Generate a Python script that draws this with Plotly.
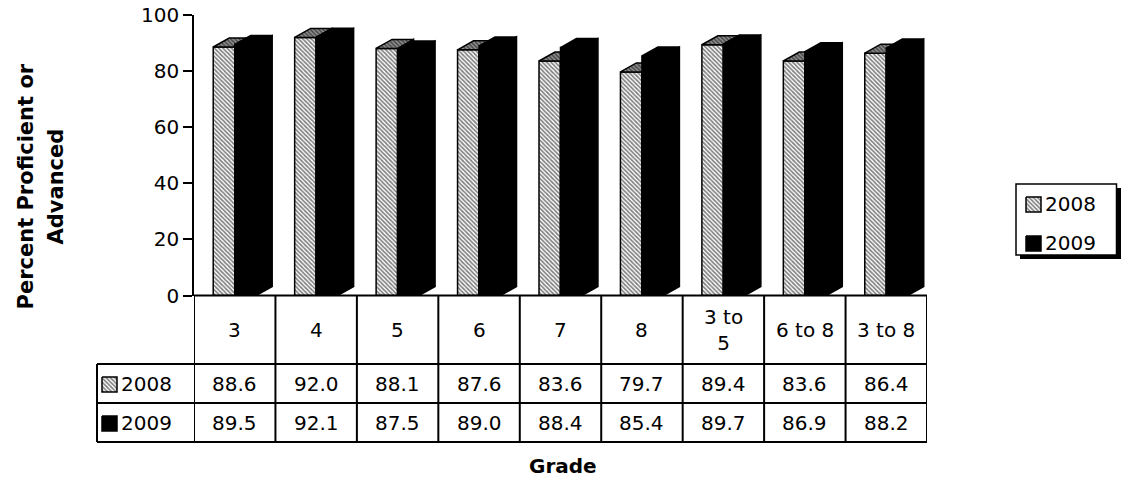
import plotly.graph_objects as go

# ---- data ---------------------------------------------------------------
grades = ["3", "4", "5", "6", "7", "8", "3 to 5", "6 to 8", "3 to 8"]
grade_labels = ["3", "4", "5", "6", "7", "8", "3 to<br>5", "6 to 8", "3 to 8"]
years = ["2008", "2009"]
pct_2008 = [88.6, 92.0, 88.1, 87.6, 83.6, 79.7, 89.4, 83.6, 86.4]
pct_2009 = [89.5, 92.1, 87.5, 89.0, 88.4, 85.4, 89.7, 86.9, 88.2]
y_ticks = [0, 20, 40, 60, 80, 100]

# ---- layout constants (pixels) -------------------------------------------
W, H = 1123, 480
PX_L, PX_R = 194, 927          # plot area left / right
PY_T, PY_B = 15, 295.5         # value 100 / value 0
TABLE_L = 97
ROW_HDR_B, ROW_1_B, ROW_2_B = 364, 403, 442
FONT = "DejaVu Sans"
FS = 20

BAR_W = 0.264      # width of one column, category units
DEPTH_X = 0.196    # oblique depth, category units
DEPTH_Y = 3.2      # oblique depth, value units

HATCH = dict(shape="\\", fgcolor="black", bgcolor="white", size=3, solidity=0.55)
HATCH_DARK = dict(shape="\\", fgcolor="black", bgcolor="#909090", size=3, solidity=0.5)


def fx(px):
    return px / W


def fy(py):
    return 1 - py / H


def top_faces(x0s, heights):
    xs, ys = [], []
    for x0, h in zip(x0s, heights):
        x1 = x0 + BAR_W
        xs += [x0, x1, x1 + DEPTH_X, x0 + DEPTH_X, x0, None]
        ys += [h, h, h + DEPTH_Y, h + DEPTH_Y, h, None]
    return xs, ys


def side_faces(x0s, heights):
    xs, ys = [], []
    for x0, h in zip(x0s, heights):
        x1 = x0 + BAR_W
        xs += [x1, x1 + DEPTH_X, x1 + DEPTH_X, x1, x1, None]
        ys += [0, DEPTH_Y, h + DEPTH_Y, h, 0, None]
    return xs, ys


idx = list(range(len(grades)))
x0_2008 = [i - BAR_W for i in idx]
x0_2009 = [i for i in idx]
EDGE = dict(color="black", width=1.5)

fig = go.Figure()

# 2008 columns (base axes)
sx, sy = side_faces(x0_2008, pct_2008)
fig.add_trace(go.Scatter(x=sx, y=sy, mode="lines", fill="toself",
                         fillcolor="#909090", fillpattern=HATCH_DARK, line=EDGE,
                         showlegend=False, hoverinfo="skip",
                         xaxis="x", yaxis="y"))
fig.add_trace(go.Bar(x=idx, y=pct_2008, width=BAR_W, offset=-BAR_W, name=years[0],
                     marker=dict(color="white", pattern=HATCH, line=EDGE),
                     showlegend=False, xaxis="x", yaxis="y"))
tx, ty = top_faces(x0_2008, pct_2008)
fig.add_trace(go.Scatter(x=tx, y=ty, mode="lines", fill="toself",
                         fillcolor="#909090", fillpattern=HATCH_DARK, line=EDGE,
                         showlegend=False, hoverinfo="skip",
                         xaxis="x", yaxis="y"))

# 2009 columns (overlay axes, drawn in front of 2008)
fig.add_trace(go.Bar(x=idx, y=pct_2009, width=BAR_W, offset=0, name=years[1],
                     marker=dict(color="black", line=EDGE),
                     showlegend=False, xaxis="x2", yaxis="y2"))
sx, sy = side_faces(x0_2009, pct_2009)
fig.add_trace(go.Scatter(x=sx, y=sy, mode="lines", fill="toself", fillcolor="black",
                         line=EDGE, showlegend=False, hoverinfo="skip",
                         xaxis="x2", yaxis="y2"))
tx, ty = top_faces(x0_2009, pct_2009)
fig.add_trace(go.Scatter(x=tx, y=ty, mode="lines", fill="toself", fillcolor="black",
                         line=EDGE, showlegend=False, hoverinfo="skip",
                         xaxis="x2", yaxis="y2"))


# swatches drawn on a pixel-space helper axes
def swatch(x0, y0, size, hatch):
    xs = [x0, x0 + size, x0 + size, x0, x0]
    ys = [y0, y0, y0 + size, y0 + size, y0]
    kw = dict(fillcolor="white", fillpattern=HATCH) if hatch else dict(fillcolor="black")
    fig.add_trace(go.Scatter(x=xs, y=ys, mode="lines", fill="toself",
                             line=dict(color="black", width=1.5),
                             showlegend=False, hoverinfo="skip",
                             xaxis="x3", yaxis="y3", **kw))


swatch(102, 377, 15, True)
swatch(102, 416, 15, False)
swatch(1026, 197, 15, True)
swatch(1026, 236, 15, False)

shapes = []
line = dict(color="black", width=2)
# table grid
shapes.append(dict(type="line", xref="x", yref="paper", x0=-0.5, x1=len(grades) - 0.5,
                   y0=fy(PY_B), y1=fy(PY_B), line=line))
for i in range(len(grades) + 1):
    shapes.append(dict(type="line", xref="x", yref="paper", x0=i - 0.5, x1=i - 0.5,
                       y0=fy(PY_B), y1=fy(ROW_2_B), line=line))
for py in (ROW_HDR_B, ROW_1_B, ROW_2_B):
    shapes.append(dict(type="line", xref="paper", yref="paper", x0=fx(TABLE_L), x1=fx(PX_R),
                       y0=fy(py), y1=fy(py), line=line))
shapes.append(dict(type="line", xref="paper", yref="paper", x0=fx(TABLE_L), x1=fx(TABLE_L),
                   y0=fy(ROW_HDR_B), y1=fy(ROW_2_B), line=line))

# legend box with drop shadow
shapes.append(dict(type="rect", xref="paper", yref="paper", layer="below",
                   x0=fx(1020), x1=fx(1121), y0=fy(188), y1=fy(259),
                   fillcolor="black", line=dict(width=0)))
shapes.append(dict(type="rect", xref="paper", yref="paper", layer="below",
                   x0=fx(1016), x1=fx(1116.5), y0=fy(184), y1=fy(255),
                   fillcolor="white", line=dict(color="black", width=1.5)))

ann = []
tfont = dict(family=FONT, size=FS, color="black")
for i, lab in enumerate(grade_labels):
    ann.append(dict(x=i, y=fy((PY_B + ROW_HDR_B) / 2), xref="x", yref="paper",
                    text=lab, showarrow=False, font=tfont, xanchor="center", yanchor="middle"))
for vals, yc in ((pct_2008, (ROW_HDR_B + ROW_1_B) / 2), (pct_2009, (ROW_1_B + ROW_2_B) / 2)):
    for i, v in enumerate(vals):
        ann.append(dict(x=i, y=fy(yc), xref="x", yref="paper", text=f"{v:.1f}",
                        showarrow=False, font=tfont, xanchor="center", yanchor="middle"))
for yr, yc in zip(years, ((ROW_HDR_B + ROW_1_B) / 2, (ROW_1_B + ROW_2_B) / 2)):
    ann.append(dict(x=fx(119), y=fy(yc), xref="paper", yref="paper", text=yr,
                    showarrow=False, font=tfont, xanchor="left", yanchor="middle"))
for yr, yc in zip(years, (204, 243)):
    ann.append(dict(x=fx(1043), y=fy(yc), xref="paper", yref="paper", text=yr,
                    showarrow=False, font=tfont, xanchor="left", yanchor="middle"))

bfont = dict(family=FONT, size=21, color="black", weight="bold")
ann.append(dict(x=fx(25), y=fy(186.5), xref="paper", yref="paper", text="Percent Proficient or",
                textangle=-90, showarrow=False, font=bfont, xanchor="center", yanchor="middle"))
ann.append(dict(x=fx(55), y=fy(186.5), xref="paper", yref="paper", text="Advanced",
                textangle=-90, showarrow=False, font=bfont, xanchor="center", yanchor="middle"))
ann.append(dict(x=fx(563), y=fy(466), xref="paper", yref="paper", text="Grade",
                showarrow=False, font=dict(family=FONT, size=20, color="black", weight="bold"),
                xanchor="center", yanchor="middle"))

xr = [-0.5, len(grades) - 0.5]
fig.update_layout(
    width=W, height=H,
    margin=dict(l=0, r=0, t=0, b=0, pad=0, autoexpand=False),
    paper_bgcolor="white", plot_bgcolor="rgba(0,0,0,0)",
    barmode="overlay", showlegend=False,
    xaxis=dict(domain=[fx(PX_L), fx(PX_R)], range=xr, visible=False, fixedrange=True),
    yaxis=dict(domain=[fy(PY_B), fy(PY_T)], range=[0, 100], tickvals=y_ticks,
               ticks="outside", ticklen=9, tickwidth=1.5, tickcolor="black",
               showline=True, linecolor="black", linewidth=1.5,
               showgrid=False, zeroline=False, tickfont=tfont, fixedrange=True),
    xaxis2=dict(overlaying="x", range=xr, visible=False, fixedrange=True),
    yaxis2=dict(overlaying="y", range=[0, 100], visible=False, fixedrange=True),
    xaxis3=dict(domain=[0, 1], range=[0, W], visible=False, fixedrange=True),
    yaxis3=dict(domain=[0, 1], range=[H, 0], visible=False, fixedrange=True),
    shapes=shapes, annotations=ann,
)

fig.write_html("out.html")
